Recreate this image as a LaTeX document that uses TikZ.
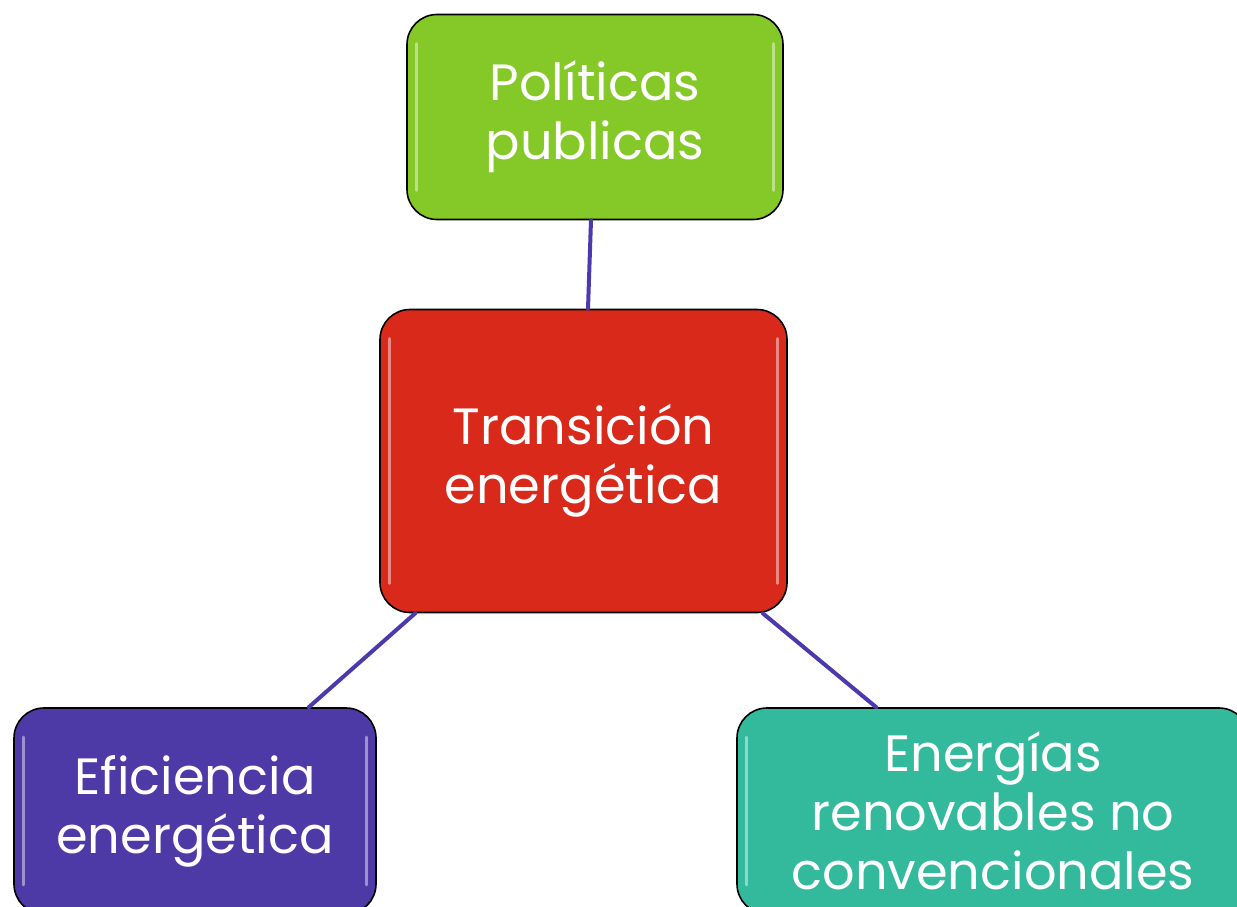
\documentclass[tikz,border=0pt]{standalone}
\usepackage{fontspec}
\setmainfont{Poppins}
\definecolor{verde}{HTML}{84C928}
\definecolor{rojo}{HTML}{D8291B}
\definecolor{morado}{HTML}{4D3AA6}
\definecolor{turquesa}{HTML}{33B99C}
\definecolor{enlace}{HTML}{4A3AAE}
\begin{document}
\begin{tikzpicture}[x=1pt, y=-1pt, line join=round, line cap=round,
	caja/.style={draw=black, line width=1.6pt, rounded corners=30pt, align=center, text=white,
		font=\fontsize{51}{59}\selectfont, inner sep=0pt},
	brillo/.style={draw=white, opacity=.45, line width=3pt},
	enl/.style={draw=enlace, line width=4pt}]
	\def \W{1237}
	\def \H{907}
	\useasboundingbox (0,0) rectangle (\W,\H);
	\node[caja, fill=verde, minimum width=376pt, minimum height=205pt] (pol) at (595,117) {Políticas\\publicas};
	\node[caja, fill=rojo, minimum width=407pt, minimum height=303pt] (trans) at (583.5,461) {Transición\\energética};
	\node[caja, fill=morado, minimum width=362pt, minimum height=206pt] (efic) at (195,811) {Eficiencia\\energética};
	\node[caja, fill=turquesa, minimum width=512pt, minimum height=206pt] (ener) at (993,811) {Energías\\renovables no\\convencionales};
	\foreach \n in {pol,trans,efic,ener}{
		\draw[brillo] ([xshift=10pt,yshift=-30pt]\n.north west) -- ([xshift=10pt,yshift=30pt]\n.south west);
		\draw[brillo] ([xshift=-10pt,yshift=-30pt]\n.north east) -- ([xshift=-10pt,yshift=30pt]\n.south east);
	}
	\draw[enl] ([xshift=-4pt]pol.south) -- ([xshift=4.5pt]trans.north);
	\draw[enl] ([xshift=36pt]trans.south west) -- ([xshift=-68pt]efic.north east);
	\draw[enl] ([xshift=-25pt]trans.south east) -- ([xshift=140pt]ener.north west);
\end{tikzpicture}
\end{document}
